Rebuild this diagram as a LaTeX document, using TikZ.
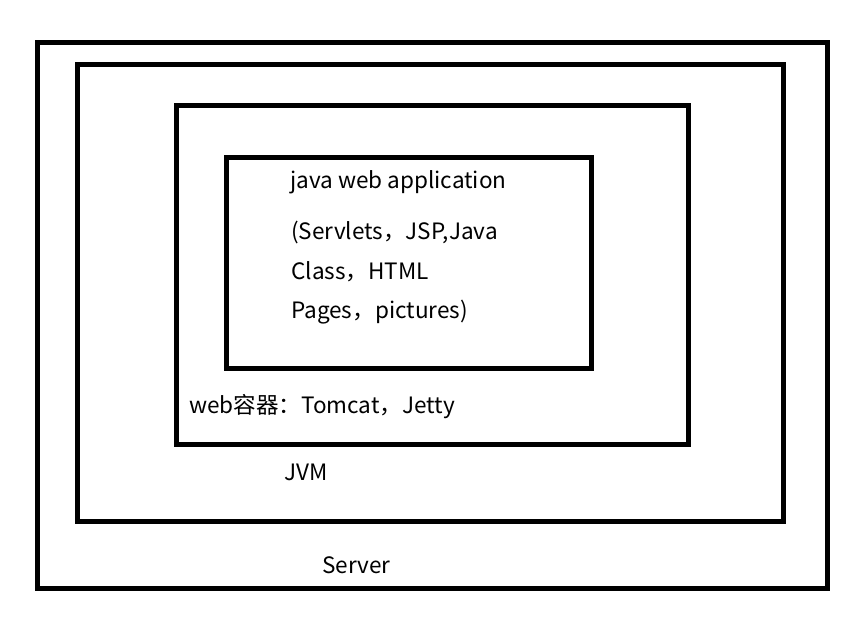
\documentclass[tikz,border=0pt]{standalone}
\usepackage{fontspec}
\setmainfont{Noto Sans CJK SC}
\begin{document}
\begin{tikzpicture}[x=0.75pt,y=-0.75pt,
  frame/.style={draw=black,line width=3.75pt},
  lbl/.style={anchor=base west,inner sep=0pt,font=\fontsize{16.9pt}{20pt}\selectfont}]
\useasboundingbox (0,0) rectangle (866,619);
\draw[frame] (37.5,42.5) rectangle (827.5,588.5);
\draw[frame] (77.5,64.5) rectangle (783.5,521.5);
\draw[frame] (176.5,105.5) rectangle (688.5,444.5);
\draw[frame] (226.5,157.5) rectangle (591.5,368.5);
\node[lbl] (t1) at (290,188) {java web application};
\node[lbl] (t2) at (291,239) {(Servlets，JSP,Java};
\node[lbl] (t3) at (291,279) {Class，HTML};
\node[lbl] (t4) at (291,318) {Pages，pictures)};
\node[lbl] (t5) at (189,413) {web容器：Tomcat，Jetty};
\node[lbl] (t6) at (284,480) {JVM};
\node[lbl] (t7) at (322,573) {Server};
\end{tikzpicture}
\end{document}
